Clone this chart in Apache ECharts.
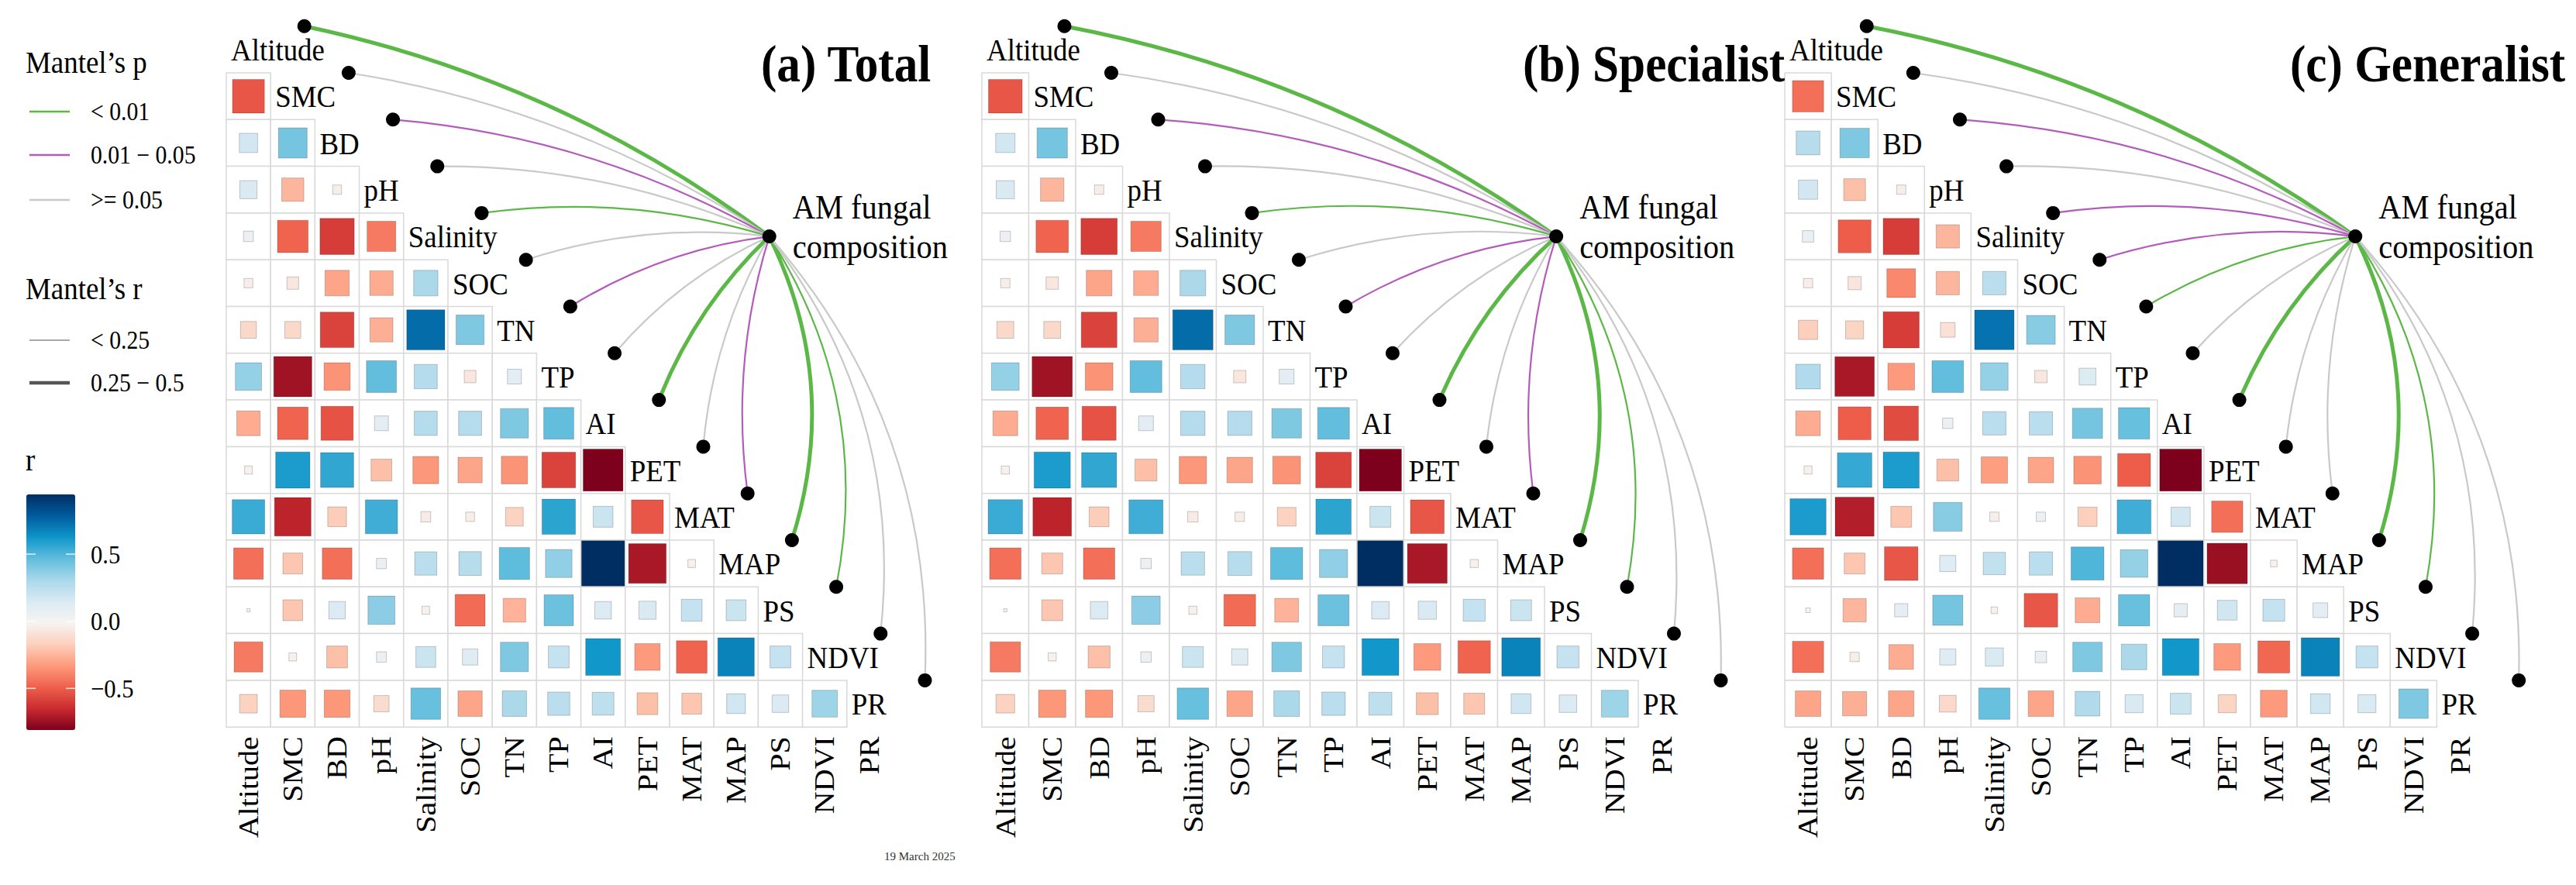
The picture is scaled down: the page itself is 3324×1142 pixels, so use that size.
<!DOCTYPE html>
<html>
<head>
<meta charset="utf-8">
<script src="https://cdn.jsdelivr.net/npm/echarts@6/dist/echarts.min.js"></script>
<style>html,body{margin:0;padding:0;background:#fff}#chart{width:3324px;height:1142px}</style>
</head>
<body>
<div id="chart"></div>
<script>
// ---------------- DATA ----------------
const vars = ['Altitude','SMC','BD','pH','Salinity','SOC','TN','TP','AI','PET','MAT','MAP','PS','NDVI','PR'];

// Lower triangle of Pearson r: row k is vars[k+1] against vars[0..k]
const corrTotal = [
  [-0.52],
  [0.17, 0.42],
  [0.15, -0.25, -0.04],
  [0.05, -0.48, -0.60, -0.42],
  [-0.04, -0.07, -0.30, -0.28, 0.30],
  [-0.13, -0.13, -0.58, -0.27, 0.74, 0.40],
  [0.35, -0.74, -0.35, 0.46, 0.27, -0.07, 0.10],
  [-0.28, -0.48, -0.53, 0.10, 0.27, 0.27, 0.40, 0.46],
  [-0.03, 0.60, 0.56, -0.22, -0.34, -0.30, -0.35, -0.58, -0.81],
  [0.54, -0.68, -0.18, 0.53, -0.05, -0.04, -0.16, 0.57, 0.20, -0.52],
  [-0.45, -0.20, -0.45, 0.05, 0.25, 0.26, 0.47, 0.36, 0.945, -0.72, -0.03],
  [0.005, -0.20, 0.14, 0.37, -0.03, -0.46, -0.26, 0.44, 0.14, 0.15, 0.22, 0.20],
  [-0.42, -0.03, -0.22, 0.05, 0.20, 0.12, 0.40, 0.22, 0.62, -0.33, -0.48, 0.68, 0.22],
  [-0.16, -0.34, -0.34, -0.12, 0.45, -0.30, 0.30, 0.25, 0.24, -0.22, -0.20, 0.18, 0.14, 0.33]
];
const corrSpecialist = corrTotal; // same environmental matrix
const corrGeneralist = [
  [-0.45],
  [0.26, 0.40],
  [0.17, -0.22, -0.04],
  [0.06, -0.50, -0.60, -0.25],
  [-0.04, -0.08, -0.38, -0.25, 0.25],
  [-0.17, -0.15, -0.60, -0.10, 0.72, 0.38],
  [0.28, -0.72, -0.33, 0.46, 0.35, -0.07, 0.13],
  [-0.28, -0.50, -0.55, 0.05, 0.25, 0.25, 0.42, 0.45],
  [-0.03, 0.55, 0.60, -0.22, -0.32, -0.30, -0.35, -0.50, -0.81],
  [0.60, -0.70, -0.20, 0.38, -0.04, 0.04, -0.17, 0.53, 0.17, -0.45],
  [-0.45, -0.20, -0.52, 0.12, 0.23, 0.25, 0.50, 0.35, 0.945, -0.75, -0.02],
  [0.01, -0.25, 0.08, 0.42, -0.02, -0.52, -0.28, 0.45, 0.08, 0.18, 0.22, 0.10],
  [-0.45, -0.04, -0.28, 0.12, 0.15, 0.06, 0.40, 0.30, 0.62, -0.33, -0.47, 0.68, 0.22],
  [-0.30, -0.27, -0.30, -0.13, 0.45, -0.30, 0.28, 0.15, 0.20, -0.15, -0.33, 0.18, 0.15, 0.40]
];

// Mantel test classes (env variable -> AM fungal composition)
const mantelPTotal = ['< 0.01','>= 0.05','0.01 − 0.05','>= 0.05','< 0.01','>= 0.05','0.01 − 0.05','>= 0.05','< 0.01','>= 0.05','0.01 − 0.05','< 0.01','< 0.01','>= 0.05','>= 0.05'];
const mantelRTotal = ['0.25 − 0.5','< 0.25','< 0.25','< 0.25','< 0.25','< 0.25','< 0.25','< 0.25','0.25 − 0.5','< 0.25','< 0.25','0.25 − 0.5','< 0.25','< 0.25','< 0.25'];
const mantelPSpecialist = ['< 0.01','>= 0.05','0.01 − 0.05','>= 0.05','< 0.01','>= 0.05','0.01 − 0.05','>= 0.05','< 0.01','>= 0.05','0.01 − 0.05','< 0.01','< 0.01','>= 0.05','>= 0.05'];
const mantelRSpecialist = ['0.25 − 0.5','< 0.25','< 0.25','< 0.25','< 0.25','< 0.25','< 0.25','< 0.25','0.25 − 0.5','< 0.25','< 0.25','0.25 − 0.5','< 0.25','< 0.25','< 0.25'];
const mantelPGeneralist = ['< 0.01','>= 0.05','0.01 − 0.05','>= 0.05','0.01 − 0.05','0.01 − 0.05','< 0.01','>= 0.05','< 0.01','>= 0.05','>= 0.05','< 0.01','< 0.01','>= 0.05','>= 0.05'];
const mantelRGeneralist = ['0.25 − 0.5','< 0.25','< 0.25','< 0.25','< 0.25','< 0.25','< 0.25','< 0.25','0.25 − 0.5','< 0.25','< 0.25','0.25 − 0.5','< 0.25','< 0.25','< 0.25'];

const pClasses = ['< 0.01','0.01 − 0.05','>= 0.05'];
const rClasses = ['< 0.25','0.25 − 0.5'];
const colorTicks = [0.5, 0.0, -0.5];
const colorTickLabels = ['0.5','0.0','−0.5'];
const titles = ['(a) Total','(b) Specialist','(c) Generalist'];
const hubName = 'AM fungal\ncomposition';
const rMin = -0.81, rMax = 0.945;

// ---------------- STYLE / LAYOUT ----------------
const FAM = 'Liberation Serif';
const SQ = 0.9;
const pColor = {'< 0.01':'#5bb847','0.01 − 0.05':'#b45cbc','>= 0.05':'#c9c9c9'};
const rWidth = {'< 0.25':2.2,'0.25 − 0.5':5};
const rLegendColor = {'< 0.25':'#a8a8a8','0.25 − 0.5':'#555555'};
const rampColors = ['#7d001c','#ca2b2f','#ef604c','#fd9a7c','#fcd0bc','#f7f4f3','#daeaf3','#a9d8ea','#60bddd','#0e96c9','#015b9e','#002e62'];
const TOP = 94, ROWH = 60.3;
const HUB = [11.75, 3.0];
const DOT_DX = 1.26, DOT_DY = -1.5;
const CURV_L = 0.11, CURV_R = 0.2;

const panels = [
  {left: 292, cw: 57.2, corr: corrTotal, p: mantelPTotal, r: mantelRTotal, titleLeft: 982},
  {left: 1267, cw: 60.5, corr: corrSpecialist, p: mantelPSpecialist, r: mantelRSpecialist, titleLeft: 1965},
  {left: 2303, cw: 60.1, corr: corrGeneralist, p: mantelPGeneralist, r: mantelRGeneralist, titleLeft: 2955}
];

function textEl(x, y, text, size, weight, align, vAlign, extra) {
  const st = {text: text, fontSize: size, fontFamily: FAM, fontWeight: weight, fill: '#000',
              align: align, textAlign: align, verticalAlign: vAlign, textVerticalAlign: vAlign};
  Object.assign(st, extra || {});
  return {type: 'text', x: x, y: y, scaleX: SQ, style: st};
}

const grids = [], xAxes = [], yAxes = [], series = [], matrixIdx = [];
panels.forEach(function (pn, pi) {
  grids.push({left: pn.left, top: TOP, width: 15 * pn.cw, height: 14 * ROWH, show: false});
  xAxes.push({type: 'value', gridIndex: pi, min: -0.5, max: 14.5, show: false});
  yAxes.push({type: 'value', gridIndex: pi, min: -0.5, max: 13.5, inverse: true, show: false});

  const cells = [];
  pn.corr.forEach(function (row, k) { row.forEach(function (v, j) { cells.push([j, k, v]); }); });

  matrixIdx.push(series.length);
  series.push({
    type: 'custom', name: 'matrix' + pi, xAxisIndex: pi, yAxisIndex: pi, z: 2, silent: true,
    data: cells,
    renderItem: function (params, api) {
      const c = api.coord([api.value(0), api.value(1)]);
      const s = api.size([1, 1]);
      const f = Math.sqrt(Math.abs(api.value(2)));
      return {type: 'group', children: [
        {type: 'rect', shape: {x: c[0] - s[0] / 2, y: c[1] - s[1] / 2, width: s[0], height: s[1]},
         style: {fill: '#fff', stroke: '#d9d9d9', lineWidth: 1.5}},
        {type: 'rect', shape: {x: c[0] - s[0] * f / 2, y: c[1] - s[1] * f / 2, width: s[0] * f, height: s[1] * f},
         style: {fill: api.visual('color'), stroke: 'rgba(0,0,0,0.2)', lineWidth: 1}}
      ]};
    }
  });

  series.push({
    type: 'custom', name: 'labels' + pi, xAxisIndex: pi, yAxisIndex: pi, z: 3, silent: true,
    data: vars.map(function (v, k) { return [k]; }),
    renderItem: function (params, api) {
      const k = params.dataIndex, name = vars[k];
      const d = api.coord([k - 0.5, k - 1]);
      const b = api.coord([k, 13.5]);
      return {type: 'group', children: [
        textEl(d[0] + 6, d[1], name, 41, 'normal', 'left', 'middle'),
        {type: 'text', x: b[0], y: b[1] + 12, rotation: Math.PI / 2, scaleY: SQ,
         style: {text: name, fontSize: 40, fontFamily: FAM, fill: '#000', align: 'right', textAlign: 'right',
                 verticalAlign: 'middle', textVerticalAlign: 'middle'}}
      ]};
    }
  });

  series.push({
    type: 'custom', name: 'links' + pi, xAxisIndex: pi, yAxisIndex: pi, z: 4, silent: true,
    data: vars.map(function (v, k) { return [k]; }),
    renderItem: function (params, api) {
      const k = params.dataIndex;
      const P = api.coord([k + DOT_DX, k + DOT_DY]);
      const H = api.coord(HUB);
      const dx = H[0] - P[0], dy = H[1] - P[1];
      const L = Math.hypot(dx, dy);
      const isLeft = P[0] < H[0];
      const nx = isLeft ? dy / L : -dy / L, ny = isLeft ? -dx / L : dx / L;
      const cv = isLeft ? CURV_L : CURV_R;
      const cx = (P[0] + H[0]) / 2 + nx * cv * L, cy = (P[1] + H[1]) / 2 + ny * cv * L;
      return {type: 'group', children: [
        {type: 'bezierCurve', shape: {x1: P[0], y1: P[1], x2: H[0], y2: H[1], cpx1: cx, cpy1: cy},
         style: {fill: 'none', stroke: pColor[pn.p[k]], lineWidth: rWidth[pn.r[k]]}},
        {type: 'circle', shape: {cx: P[0], cy: P[1], r: 9}, style: {fill: '#000'}}
      ]};
    }
  });

  series.push({
    type: 'custom', name: 'hub' + pi, xAxisIndex: pi, yAxisIndex: pi, z: 5, silent: true,
    data: [[0]],
    renderItem: function (params, api) {
      const H = api.coord(HUB);
      return {type: 'group', children: [
        {type: 'circle', shape: {cx: H[0], cy: H[1], r: 9}, style: {fill: '#000'}},
        textEl(H[0] + 30, H[1] - 13, hubName, 45, 'normal', 'left', 'middle', {lineHeight: 51}),
        textEl(pn.titleLeft, 82, titles[pi], 68, 'bold', 'left', 'middle')
      ]};
    }
  });
});

// ---------------- LEGEND (left) ----------------
const CB_TOP = 638, CB_H = 304, CB_LEFT = 34, CB_W = 63;
function cbY(v) { return CB_TOP + (rMax - v) / (rMax - rMin) * CB_H; }
const graphics = [];
graphics.push(textEl(33, 80, 'Mantel’s p', 41, 'normal', 'left', 'middle'));
pClasses.forEach(function (c, i) {
  const y = [144, 200, 258][i];
  graphics.push({type: 'line', shape: {x1: 38, y1: y, x2: 90, y2: y}, style: {stroke: pColor[c], lineWidth: 2.5}});
  graphics.push(textEl(117, y, c, 33, 'normal', 'left', 'middle'));
});
graphics.push(textEl(33, 372, 'Mantel’s r', 41, 'normal', 'left', 'middle'));
rClasses.forEach(function (c, i) {
  const y = [439, 494][i];
  graphics.push({type: 'line', shape: {x1: 38, y1: y, x2: 90, y2: y}, style: {stroke: rLegendColor[c], lineWidth: rWidth[c] * 0.9}});
  graphics.push(textEl(117, y, c, 33, 'normal', 'left', 'middle'));
});
graphics.push(textEl(33, 593, 'r', 41, 'normal', 'left', 'middle'));
colorTicks.forEach(function (v, i) {
  const y = cbY(v);
  graphics.push({type: 'line', z: 100, shape: {x1: CB_LEFT, y1: y, x2: CB_LEFT + 12, y2: y}, style: {stroke: 'rgba(255,255,255,0.8)', lineWidth: 1.5}});
  graphics.push({type: 'line', z: 100, shape: {x1: CB_LEFT + CB_W - 12, y1: y, x2: CB_LEFT + CB_W, y2: y}, style: {stroke: 'rgba(255,255,255,0.8)', lineWidth: 1.5}});
  graphics.push(textEl(117, y, colorTickLabels[i], 34, 'normal', 'left', 'middle'));
});
graphics.push({type: 'text', x: 1141, y: 1105, style: {text: '19 March 2025', fontSize: 15, fontFamily: FAM, fill: '#333', align: 'left', textAlign: 'left', verticalAlign: 'middle', textVerticalAlign: 'middle'}});

const chart = echarts.init(document.getElementById('chart'), null, {renderer: 'svg', width: 3324, height: 1142});
chart.setOption({
  backgroundColor: '#fff',
  animation: false,
  grid: grids,
  xAxis: xAxes,
  yAxis: yAxes,
  visualMap: {
    type: 'continuous', min: rMin, max: rMax, dimension: 2, seriesIndex: matrixIdx,
    inRange: {color: rampColors}, show: true, calculable: false, hoverLink: false,
    orient: 'vertical', left: CB_LEFT, top: CB_TOP, itemWidth: CB_W, itemHeight: CB_H, padding: 0
  },
  graphic: {elements: graphics},
  series: series
});
</script>
</body>
</html>
